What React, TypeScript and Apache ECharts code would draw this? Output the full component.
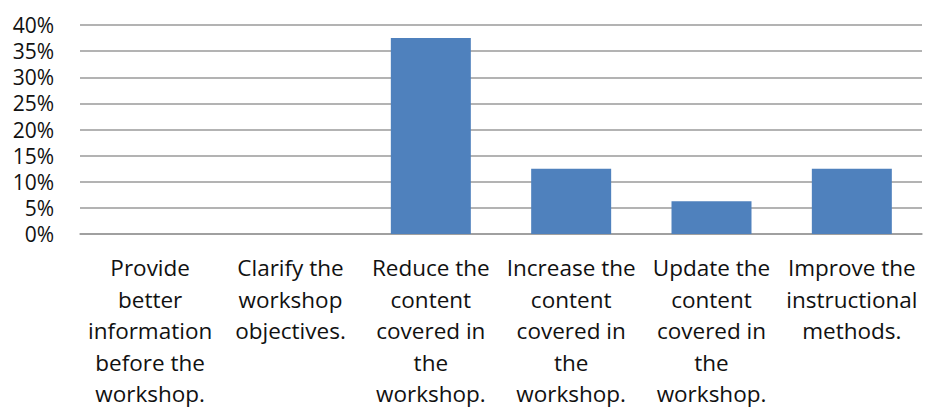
import React, { useEffect, useRef } from "react";
import * as echarts from "echarts";

const categories = [
  "Provide\nbetter\ninformation\nbefore the\nworkshop.",
  "Clarify the\nworkshop\nobjectives.",
  "Reduce the\ncontent\ncovered in\nthe\nworkshop.",
  "Increase the\ncontent\ncovered in\nthe\nworkshop.",
  "Update the\ncontent\ncovered in\nthe\nworkshop.",
  "Improve the\ninstructional\nmethods.",
];
const values = [0, 0, 0.375, 0.125, 0.0625, 0.125];
const yMin = 0;
const yMax = 0.4;
const yStep = 0.05;

export default function App() {
  const ref = useRef<HTMLDivElement>(null);
  useEffect(() => {
    const chart = echarts.init(ref.current!, null, { renderer: "svg" });
    const font = "Open Sans";
    chart.setOption({
      animation: false,
      grid: { left: 80, right: 3, top: 25, bottom: 178, containLabel: false },
      xAxis: {
        type: "category",
        data: categories,
        axisTick: { show: false },
        axisLine: { show: true, lineStyle: { color: "#9a9a9a", width: 1.5 } },
        axisLabel: {
          interval: 0,
          margin: 18,
          color: "#111",
          fontFamily: font,
          fontSize: 22.5,
          lineHeight: 31.5,
          align: "center",
        },
      },
      yAxis: {
        type: "value",
        min: yMin,
        max: yMax,
        interval: yStep,
        axisLine: { show: false },
        axisTick: { show: false },
        splitLine: { lineStyle: { color: "#9a9a9a", width: 1.5 } },
        axisLabel: {
          margin: 26,
          color: "#111",
          fontFamily: font,
          fontSize: 21,
          lineHeight: 24,
          formatter: (v: number) => Math.round(v * 100) + "%",
        },
      },
      series: [
        {
          type: "bar",
          data: values,
          barCategoryGap: "43%",
          itemStyle: { color: "#4F81BD" },
        },
      ],
    });
    return () => chart.dispose();
  }, []);
  return (
    <div
      ref={ref}
      style={{ position: "absolute", left: 0, top: 0, width: 925, height: 412 }}
    />
  );
}
